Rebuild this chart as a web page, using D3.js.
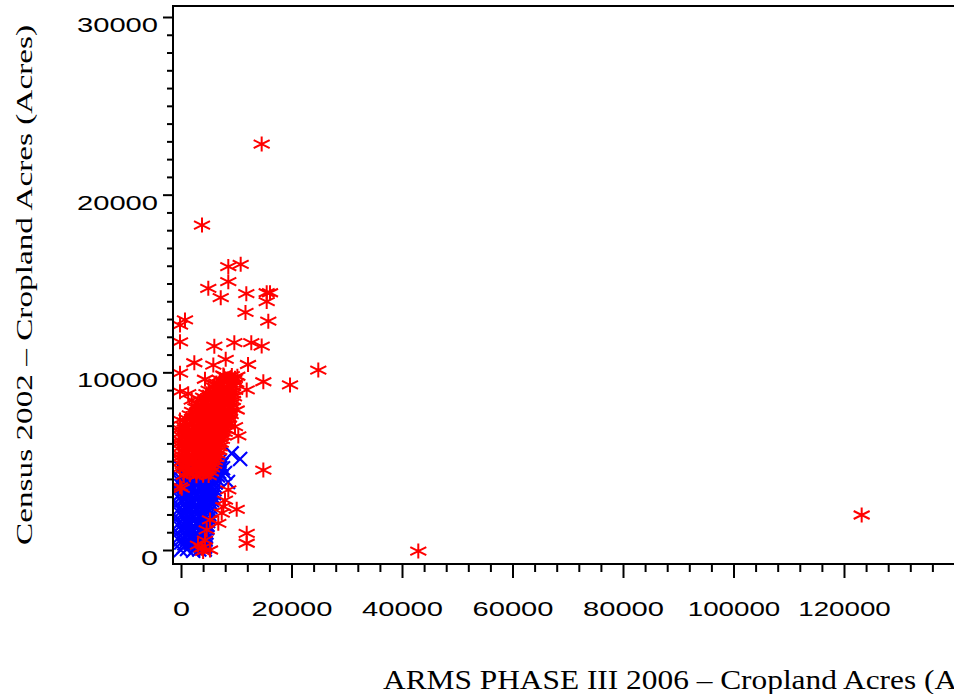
<!DOCTYPE html>
<html><head><meta charset="utf-8">
<script src="https://cdn.jsdelivr.net/npm/d3@7/dist/d3.min.js"></script>
<style>body{margin:0;background:#fff}svg{display:block}</style>
</head><body><svg id="c" width="954" height="694"></svg>
<script>
// ---- data ----
const xTicks = [0, 20000, 40000, 60000, 80000, 100000, 120000];
const yTicks = [0, 10000, 20000, 30000];
const xTitle = "ARMS PHASE III 2006 \u2013 Cropland Acres (Acres)";
const yTitle = "Census 2002 \u2013 Cropland Acres (Acres)";

// blue "X" markers: [ARMS acres, Census acres]
const bluePoints = [
  [-50,0],[1100,60],[2200,-40],[3300,30],[4300,20],
  [550,200],[1650,220],[2750,180],[3850,210],[4350,190],
  [30,420],[600,380],[1700,410],[2800,390],[3900,430],[4400,400],
  [0,600],[1150,620],[2250,580],[3350,610],[4450,590],
  [-80,800],[1100,820],[2200,780],[3300,810],[4500,790],
  [550,1000],[1650,1020],[2750,980],[3850,1010],[4600,990],
  [50,1200],[600,1230],[1700,1180],[2800,1210],[3900,1190],[4700,1220],
  [0,1400],[1150,1420],[2250,1380],[3350,1410],[4450,1390],[4800,1420],
  [-30,1610],[1100,1590],[2200,1620],[3300,1580],[4400,1600],[4900,1630],
  [550,1800],[1650,1820],[2750,1780],[3850,1810],[5000,1790],
  [20,2000],[600,2030],[1700,1980],[2800,2010],[3900,1990],[5100,2020],
  [0,2200],[1150,2220],[2250,2180],[3350,2210],[4450,2190],[5200,2220],
  [-60,2400],[1100,2420],[2200,2380],[3300,2410],[4400,2390],[5300,2420],
  [550,2600],[1650,2620],[2750,2580],[3850,2610],[4950,2590],[5450,2620],
  [40,2800],[600,2830],[1700,2780],[2800,2810],[3900,2790],[5000,2820],[5600,2800],
  [0,3000],[1150,3020],[2250,2980],[3350,3010],[4450,2990],[5500,3020],[5800,3000],
  [-20,3200],[1100,3220],[2200,3180],[3300,3210],[4400,3190],[5500,3220],[6000,3200],
  [550,3400],[1650,3420],[2750,3380],[3850,3410],[4950,3390],[6050,3420],
  [30,3600],[600,3630],[1700,3580],[2800,3610],[3900,3590],[5000,3620],[6100,3600],
  [0,3800],[1150,3820],[2250,3780],[3350,3810],[4450,3790],[5550,3820],[6300,3800],
  [-40,4000],[1100,4020],[2200,3980],[3300,4010],[4400,3990],[5500,4020],[6500,4000],
  [550,4200],[1650,4220],[2750,4180],[3850,4210],[4950,4190],[6050,4220],[6700,4200],
  [600,4400],[1700,4420],[2800,4380],[3900,4410],[5000,4390],[6100,4420],[6900,4400],
  [0,4600],[1150,4620],[2250,4580],[3350,4610],[4450,4590],[5550,4620],[6650,4600],[7100,4620],
  [1100,4800],[2200,4820],[3300,4780],[4400,4810],[5500,4790],[6600,4820],[7300,4800],
  [1650,5000],[2750,5020],[3850,4980],[4950,5010],[6050,4990],[7000,5020],
  [7600,4600],[7960,4330],[8500,3830],[9170,5440],[10700,5120]
];

// red asterisk markers: dense cluster
const redCluster = [
  [500,4200],[1600,4230],[2800,4180],[4000,4210],[5000,4190],
  [1100,4400],[2200,4420],[3400,4380],[4500,4410],[5400,4390],
  [-200,4600],[900,4620],[2100,4580],[3300,4610],[4500,4590],[5600,4620],
  [300,4800],[1500,4820],[2700,4780],[3900,4810],[5100,4790],[6000,4820],
  [200,5000],[1400,5030],[2600,4980],[3800,5010],[5000,4990],[6100,5020],
  [-300,5200],[800,5220],[2000,5180],[3200,5210],[4400,5190],[5500,5220],[6400,5200],
  [-300,5400],[800,5420],[2000,5380],[3200,5410],[4400,5390],[5600,5420],[6600,5400],
  [200,5600],[1400,5620],[2600,5580],[3800,5610],[5000,5590],[6200,5620],[6900,5600],
  [100,5800],[1300,5830],[2500,5780],[3700,5810],[4900,5790],[6000,5820],[7000,5800],
  [-300,6000],[700,6020],[1900,5980],[3100,6010],[4300,5990],[5500,6020],[6500,6000],[7200,6020],
  [-300,6200],[800,6220],[2000,6180],[3200,6210],[4400,6190],[5600,6220],[6700,6200],[7400,6230],
  [200,6400],[1400,6420],[2600,6380],[3800,6410],[5000,6390],[6200,6420],[7200,6400],[7700,6420],
  [100,6600],[1300,6630],[2500,6580],[3700,6610],[4900,6590],[6100,6620],[7200,6600],[7900,6620],
  [-200,6800],[700,6820],[1900,6780],[3100,6810],[4300,6790],[5500,6820],[6700,6800],[7700,6820],[8100,6800],
  [300,7000],[1600,7020],[2800,6980],[4000,7010],[5200,6990],[6400,7020],[7500,7000],[8300,7030],
  [700,7200],[2200,7220],[3400,7180],[4600,7210],[5800,7190],[7000,7220],[8000,7200],[8500,7220],
  [1000,7400],[2200,7420],[3400,7380],[4600,7410],[5800,7390],[7000,7420],[8100,7400],[8700,7430],
  [1600,7600],[2800,7620],[4000,7580],[5200,7610],[6400,7590],[7600,7620],[8500,7600],[9000,7620],
  [2000,7800],[3200,7820],[4400,7780],[5600,7810],[6800,7790],[8000,7820],[8900,7800],
  [2600,8000],[3800,8020],[5000,7980],[6200,8010],[7400,7990],[8600,8020],[9300,8000],
  [3000,8200],[4200,8220],[5400,8180],[6600,8210],[7800,8190],[9000,8220],
  [3600,8400],[4800,8420],[6000,8380],[7200,8410],[8400,8390],[9400,8420],
  [4000,8600],[5400,8620],[6600,8580],[7800,8610],[9000,8590],[9600,8620],
  [4600,8800],[5800,8820],[7000,8780],[8200,8810],[9400,8790],
  [5000,9000],[6400,9020],[7600,8980],[8800,9010],[9800,8990],
  [5800,9200],[7000,9220],[8200,9180],[9400,9210],
  [6400,9400],[7800,9420],[9000,9380],[10000,9410],
  [7000,9600],[8400,9620],[9600,9580],
  [7800,9800],[9200,9820],[10200,9780]
];
// red asterisk markers: scattered points
const redScatter = [
  [14600,22850],[3800,18290],[8560,15950],[10800,16080],[8560,15100],[4940,14730],
  [7190,14200],[11820,14430],[15510,14480],[16110,14480],[15510,13980],[11670,13370],
  [15800,12880],[720,12950],[-180,12660],[-180,11720],[6030,11470],[9650,11670],
  [12720,11670],[14600,11480],[2410,10540],[5850,10410],[8090,10730],[12130,10440],
  [24850,10130],[-180,9950],[4340,9610],[7660,9850],[9770,9660],[14900,9470],
  [19730,9290],[-180,8910],[6030,9290],[11890,9010],[1940,8440],[4340,8540],
  [2840,8070],[1300,8800],[-180,7320],[10080,7880],[10370,6420],[9770,6940],
  [14900,4500],[42950,-60],[123200,1970],[-180,3560],[130,3470],[8560,3380],
  [7960,2810],[7660,2440],[10080,2290],[7370,2070],[5250,1690],[6750,1500],
  [4650,1130],[11890,940],[11890,380],[3750,100],[5250,0],[3080,280],[4340,560],[4000,-80]
];

// ---- layout ----
const svg = d3.select("#c");
const pLeft = 173, pTop = 6, pBottom = 564;
const x = d3.scaleLinear().domain([-1450, 141450]).range([pLeft, 962.5]);
const y = d3.scaleLinear().domain([-788, 30619]).range([pBottom, pTop]);

svg.append("rect").attr("width", 954).attr("height", 694).attr("fill", "#fff");

svg.append("defs").append("clipPath").attr("id", "plot")
  .append("rect").attr("x", pLeft).attr("y", pTop).attr("width", 954 - pLeft).attr("height", pBottom - pTop);

const g = svg.append("g").attr("clip-path", "url(#plot)");
const starPath = "M0,-7.5V7.5M-8,-4L8,4M-8,4L8,-4";
const xPath = "M-7,-7L7,7M-7,7L7,-7";

g.selectAll("path.b").data(bluePoints).join("path").attr("class", "b")
  .attr("d", xPath)
  .attr("transform", d => `translate(${x(d[0])},${y(d[1])})`)
  .attr("fill", "none").attr("stroke", "#0000ff").attr("stroke-width", 2.2);

g.selectAll("path.r").data(redCluster.concat(redScatter)).join("path").attr("class", "r")
  .attr("d", starPath)
  .attr("transform", d => `translate(${x(d[0])},${y(d[1])})`)
  .attr("fill", "none").attr("stroke", "#ff0000").attr("stroke-width", 2);

// ---- axes ----
const fmt = d3.format("d");
const labelW = s => s.length === 1 ? 17 : (s.length === 5 ? 81 : 92.5);

const yMinor = d3.range(0, 30001, 1000).filter(v => v % 10000 !== 0);
svg.append("g").attr("transform", `translate(${pLeft},0)`)
  .call(d3.axisLeft(y).tickValues(yMinor).tickSize(6).tickSizeOuter(0).tickFormat(""));
const yAx = svg.append("g").attr("transform", `translate(${pLeft},0)`)
  .call(d3.axisLeft(y).tickValues(yTicks).tickSize(10).tickSizeOuter(0).tickFormat(fmt));
yAx.selectAll("text")
  .attr("x", -15).attr("dy", null).attr("y", 14.5)
  .attr("text-anchor", "end")
  .attr("font-family", "'Liberation Sans', Arial, sans-serif").attr("font-size", 20)
  .attr("fill", "#000")
  .attr("textLength", function(d){ return labelW(fmt(d)); })
  .attr("lengthAdjust", "spacingAndGlyphs");

const xMinor = d3.range(0, 140001, 4000).filter(v => v % 20000 !== 0);
svg.append("g").attr("transform", `translate(0,${pBottom})`)
  .call(d3.axisBottom(x).tickValues(xMinor).tickSize(8).tickSizeOuter(0).tickFormat(""));
const xAx = svg.append("g").attr("transform", `translate(0,${pBottom})`)
  .call(d3.axisBottom(x).tickValues(xTicks).tickSize(14).tickSizeOuter(0).tickFormat(fmt));
xAx.selectAll("text")
  .attr("y", 52).attr("dy", null)
  .attr("font-family", "'Liberation Sans', Arial, sans-serif").attr("font-size", 21)
  .attr("fill", "#000")
  .attr("textLength", function(d){ return labelW(fmt(d)); })
  .attr("lengthAdjust", "spacingAndGlyphs");

svg.selectAll(".domain").remove();
svg.selectAll(".tick line").attr("stroke", "#000").attr("stroke-width", 2);

svg.append("path")
  .attr("d", `M954,${pTop}H${pLeft}V${pBottom}H954`)
  .attr("fill", "none").attr("stroke", "#000").attr("stroke-width", 2);

svg.append("text").text(xTitle)
  .attr("x", 383).attr("y", 689)
  .attr("font-family", "'Liberation Serif', 'Times New Roman', serif").attr("font-size", 27)
  .attr("fill", "#000")
  .attr("textLength", 635).attr("lengthAdjust", "spacingAndGlyphs");

svg.append("text").text(yTitle)
  .attr("transform", `translate(32,${(pTop + pBottom) / 2}) rotate(-90)`)
  .attr("text-anchor", "middle")
  .attr("font-family", "'Liberation Serif', 'Times New Roman', serif").attr("font-size", 23)
  .attr("fill", "#000")
  .attr("textLength", 520).attr("lengthAdjust", "spacingAndGlyphs");
</script>
</body></html>
